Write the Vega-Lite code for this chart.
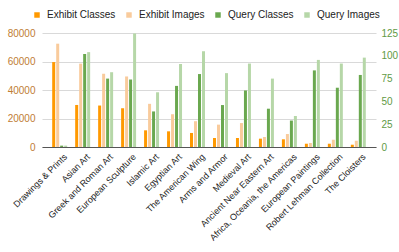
{
  "$schema": "https://vega.github.io/schema/vega-lite/v6.json",
  "width": 334,
  "height": 114,
  "autosize": {"type": "none"},
  "padding": {"left": 42, "top": 33, "right": 23, "bottom": 105},
  "config": {"view": {"stroke": null}, "font": "Liberation Sans"},
  "data": {"values": [
    {"category": "Drawings & Prints", "series": "Exhibit Classes", "value": 59600},
    {"category": "Drawings & Prints", "series": "Exhibit Images", "value": 72500},
    {"category": "Drawings & Prints", "series": "Query Classes", "value": 1.5},
    {"category": "Drawings & Prints", "series": "Query Images", "value": 1.5},
    {"category": "Asian Art", "series": "Exhibit Classes", "value": 29500},
    {"category": "Asian Art", "series": "Exhibit Images", "value": 58500},
    {"category": "Asian Art", "series": "Query Classes", "value": 102},
    {"category": "Asian Art", "series": "Query Images", "value": 104},
    {"category": "Greek and Roman Art", "series": "Exhibit Classes", "value": 29100},
    {"category": "Greek and Roman Art", "series": "Exhibit Images", "value": 51400},
    {"category": "Greek and Roman Art", "series": "Query Classes", "value": 75},
    {"category": "Greek and Roman Art", "series": "Query Images", "value": 82},
    {"category": "European Sculpture", "series": "Exhibit Classes", "value": 27200},
    {"category": "European Sculpture", "series": "Exhibit Images", "value": 49500},
    {"category": "European Sculpture", "series": "Query Classes", "value": 74},
    {"category": "European Sculpture", "series": "Query Images", "value": 124.5},
    {"category": "Islamic Art", "series": "Exhibit Classes", "value": 11700},
    {"category": "Islamic Art", "series": "Exhibit Images", "value": 30300},
    {"category": "Islamic Art", "series": "Query Classes", "value": 39},
    {"category": "Islamic Art", "series": "Query Images", "value": 60},
    {"category": "Egyptian Art", "series": "Exhibit Classes", "value": 11000},
    {"category": "Egyptian Art", "series": "Exhibit Images", "value": 23000},
    {"category": "Egyptian Art", "series": "Query Classes", "value": 67},
    {"category": "Egyptian Art", "series": "Query Images", "value": 91},
    {"category": "The American Wing", "series": "Exhibit Classes", "value": 9850},
    {"category": "The American Wing", "series": "Exhibit Images", "value": 18100},
    {"category": "The American Wing", "series": "Query Classes", "value": 80},
    {"category": "The American Wing", "series": "Query Images", "value": 105},
    {"category": "Arms and Armor", "series": "Exhibit Classes", "value": 6300},
    {"category": "Arms and Armor", "series": "Exhibit Images", "value": 15700},
    {"category": "Arms and Armor", "series": "Query Classes", "value": 46},
    {"category": "Arms and Armor", "series": "Query Images", "value": 81},
    {"category": "Medieval Art", "series": "Exhibit Classes", "value": 6300},
    {"category": "Medieval Art", "series": "Exhibit Images", "value": 16800},
    {"category": "Medieval Art", "series": "Query Classes", "value": 62},
    {"category": "Medieval Art", "series": "Query Images", "value": 91.5},
    {"category": "Ancient Near Eastern Art", "series": "Exhibit Classes", "value": 5850},
    {"category": "Ancient Near Eastern Art", "series": "Exhibit Images", "value": 7000},
    {"category": "Ancient Near Eastern Art", "series": "Query Classes", "value": 42},
    {"category": "Ancient Near Eastern Art", "series": "Query Images", "value": 75},
    {"category": "Africa, Oceania, the Americas", "series": "Exhibit Classes", "value": 5400},
    {"category": "Africa, Oceania, the Americas", "series": "Exhibit Images", "value": 9100},
    {"category": "Africa, Oceania, the Americas", "series": "Query Classes", "value": 29},
    {"category": "Africa, Oceania, the Americas", "series": "Query Images", "value": 34},
    {"category": "European Paintings", "series": "Exhibit Classes", "value": 2300},
    {"category": "European Paintings", "series": "Exhibit Images", "value": 2800},
    {"category": "European Paintings", "series": "Query Classes", "value": 84},
    {"category": "European Paintings", "series": "Query Images", "value": 95.5},
    {"category": "Robert Lehman Collection", "series": "Exhibit Classes", "value": 2300},
    {"category": "Robert Lehman Collection", "series": "Exhibit Images", "value": 5100},
    {"category": "Robert Lehman Collection", "series": "Query Classes", "value": 65},
    {"category": "Robert Lehman Collection", "series": "Query Images", "value": 91.5},
    {"category": "The Cloisters", "series": "Exhibit Classes", "value": 1600},
    {"category": "The Cloisters", "series": "Exhibit Images", "value": 4400},
    {"category": "The Cloisters", "series": "Query Classes", "value": 79},
    {"category": "The Cloisters", "series": "Query Images", "value": 98}
  ]},
  "encoding": {
    "x": {
      "field": "category", "type": "nominal", "sort": null,
      "scale": {"paddingInner": 0, "paddingOuter": 0.27},
      "axis": {"title": null, "labelAngle": -45, "labelFontSize": 9, "labelColor": "#222222", "ticks": false, "domainColor": "#555555", "labelPadding": 5, "labelOffset": 3, "labelLimit": 200}
    },
    "xOffset": {
      "field": "series", "type": "nominal",
      "scale": {"domain": ["Exhibit Classes", "Exhibit Images", "Query Classes", "Query Images"], "paddingInner": 0.25, "paddingOuter": 1.5}
    },
    "color": {
      "field": "series", "type": "nominal",
      "scale": {"domain": ["Exhibit Classes", "Exhibit Images", "Query Classes", "Query Images"], "range": ["#ff9900", "#f9cb9c", "#6aa84f", "#b6d7a8"]},
      "legend": {"title": null, "orient": "none", "direction": "horizontal", "legendX": -10, "legendY": -23, "symbolType": "square", "symbolSize": 30, "labelFontSize": 10, "labelColor": "#222222", "columnPadding": 8, "labelOffset": 5, "symbolStrokeWidth": 0}
    }
  },
  "layer": [
    {
      "transform": [{"filter": {"field": "series", "oneOf": ["Exhibit Classes", "Exhibit Images"]}}],
      "mark": {"type": "bar"},
      "encoding": {
        "y": {"field": "value", "type": "quantitative",
          "scale": {"domain": [0, 80000], "nice": false},
          "axis": {"title": null, "orient": "left", "values": [0, 20000, 40000, 60000, 80000], "format": "d", "labelFontSize": 10, "labelColor": "#c07d35", "domain": false, "ticks": false, "labelPadding": 7, "gridColor": "#d9d9d9"}}
      }
    },
    {
      "transform": [{"filter": {"field": "series", "oneOf": ["Query Classes", "Query Images"]}}],
      "mark": {"type": "bar"},
      "encoding": {
        "y": {"field": "value", "type": "quantitative",
          "scale": {"domain": [0, 125], "nice": false},
          "axis": {"title": null, "orient": "right", "values": [0, 25, 50, 75, 100, 125], "labelFontSize": 10, "labelColor": "#5f9a45", "domain": false, "ticks": false, "labelPadding": 5, "grid": false}}
      }
    }
  ],
  "resolve": {"scale": {"y": "independent"}}
}
